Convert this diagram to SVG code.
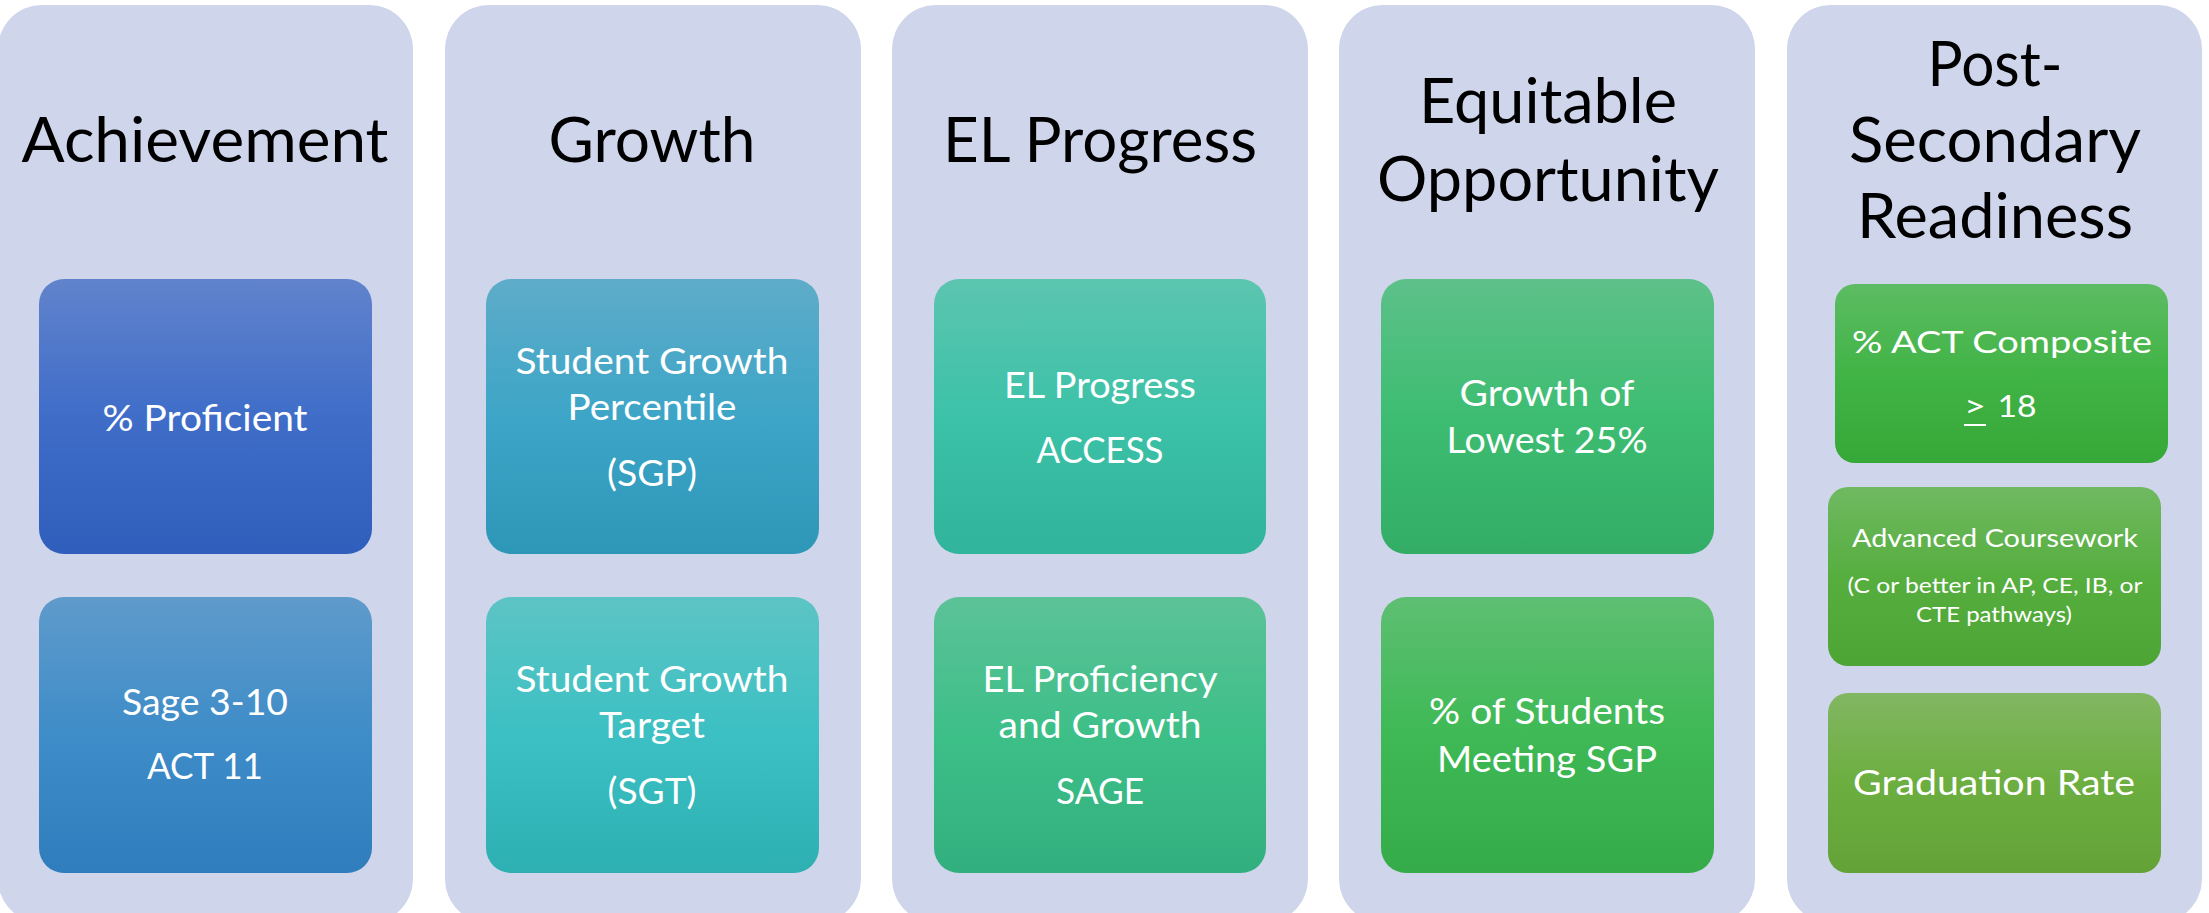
<svg xmlns="http://www.w3.org/2000/svg" width="2209" height="913" viewBox="0 0 2209 913">
<style>
.col{fill:#CFD5EA}
.title{font-family:Lato,"Open Sans","Liberation Sans",sans-serif;font-size:62px;fill:#000;text-anchor:middle}
.bt{font-family:Lato,"Open Sans","Liberation Sans",sans-serif;font-size:36px;fill:#fff;text-anchor:middle}
.st{font-family:Lato,"Open Sans","Liberation Sans",sans-serif;fill:#fff;text-anchor:middle}
</style>
<defs>
<linearGradient id="g1" x1="0" y1="0" x2="0" y2="1"><stop offset="0" stop-color="#6183CC"/><stop offset="0.5" stop-color="#3F6DC8"/><stop offset="1" stop-color="#2F5EBC"/></linearGradient>
<linearGradient id="g2" x1="0" y1="0" x2="0" y2="1"><stop offset="0" stop-color="#5F9BCB"/><stop offset="0.5" stop-color="#3E8CC8"/><stop offset="1" stop-color="#2F7DBC"/></linearGradient>
<linearGradient id="g3" x1="0" y1="0" x2="0" y2="1"><stop offset="0" stop-color="#5EACC9"/><stop offset="0.5" stop-color="#3DA5C7"/><stop offset="1" stop-color="#2E97B8"/></linearGradient>
<linearGradient id="g4" x1="0" y1="0" x2="0" y2="1"><stop offset="0" stop-color="#5DC4C5"/><stop offset="0.5" stop-color="#3CC0C3"/><stop offset="1" stop-color="#2EB0B2"/></linearGradient>
<linearGradient id="g5" x1="0" y1="0" x2="0" y2="1"><stop offset="0" stop-color="#5CC5B0"/><stop offset="0.5" stop-color="#3CC2A8"/><stop offset="1" stop-color="#30B49B"/></linearGradient>
<linearGradient id="g6" x1="0" y1="0" x2="0" y2="1"><stop offset="0" stop-color="#5CC298"/><stop offset="0.5" stop-color="#3DBF88"/><stop offset="1" stop-color="#32AF7E"/></linearGradient>
<linearGradient id="g7" x1="0" y1="0" x2="0" y2="1"><stop offset="0" stop-color="#5DC189"/><stop offset="0.5" stop-color="#3DBD72"/><stop offset="1" stop-color="#33AD66"/></linearGradient>
<linearGradient id="g8" x1="0" y1="0" x2="0" y2="1"><stop offset="0" stop-color="#5EBF72"/><stop offset="0.5" stop-color="#3EB955"/><stop offset="1" stop-color="#35AB49"/></linearGradient>
<linearGradient id="g9" x1="0" y1="0" x2="0" y2="1"><stop offset="0" stop-color="#5DBC63"/><stop offset="0.5" stop-color="#41B446"/><stop offset="1" stop-color="#36A838"/></linearGradient>
<linearGradient id="g10" x1="0" y1="0" x2="0" y2="1"><stop offset="0" stop-color="#70B961"/><stop offset="0.5" stop-color="#56AE3F"/><stop offset="1" stop-color="#4DA535"/></linearGradient>
<linearGradient id="g11" x1="0" y1="0" x2="0" y2="1"><stop offset="0" stop-color="#82B762"/><stop offset="0.5" stop-color="#6CAE40"/><stop offset="1" stop-color="#63A237"/></linearGradient>
</defs>

<g id="col-achievement">
<rect class="col" x="-2" y="5" width="415" height="918" rx="44"/>
<text class="title" x="205" y="162" textLength="367" lengthAdjust="spacingAndGlyphs">Achievement</text>
</g>
<g id="node-proficient">
<rect x="39" y="279" width="333" height="275" rx="25" fill="url(#g1)"/>
<text class="bt" x="205" y="431" textLength="205" lengthAdjust="spacingAndGlyphs">% Proficient</text>
</g>
<g id="node-sage">
<rect x="39" y="597" width="333" height="276" rx="25" fill="url(#g2)"/>
<text class="bt" x="205" y="715" textLength="166" lengthAdjust="spacingAndGlyphs">Sage 3-10</text>
<text class="bt" x="205" y="779" textLength="116" lengthAdjust="spacingAndGlyphs">ACT 11</text>
</g>

<g id="col-growth">
<rect class="col" x="445" y="5" width="416" height="918" rx="44"/>
<text class="title" x="652" y="162" textLength="207" lengthAdjust="spacingAndGlyphs">Growth</text>
</g>
<g id="node-sgp">
<rect x="486" y="279" width="333" height="275" rx="25" fill="url(#g3)"/>
<text class="bt" x="652" y="374" textLength="273" lengthAdjust="spacingAndGlyphs">Student Growth</text>
<text class="bt" x="652" y="420" textLength="169" lengthAdjust="spacingAndGlyphs">Percentile</text>
<text class="bt" x="652" y="486" textLength="90" lengthAdjust="spacingAndGlyphs">(SGP)</text>
</g>
<g id="node-sgt">
<rect x="486" y="597" width="333" height="276" rx="25" fill="url(#g4)"/>
<text class="bt" x="652" y="692" textLength="273" lengthAdjust="spacingAndGlyphs">Student Growth</text>
<text class="bt" x="652" y="738" textLength="106" lengthAdjust="spacingAndGlyphs">Target</text>
<text class="bt" x="652" y="804" textLength="89" lengthAdjust="spacingAndGlyphs">(SGT)</text>
</g>

<g id="col-el">
<rect class="col" x="892" y="5" width="416" height="918" rx="44"/>
<text class="title" x="1100" y="162" textLength="314" lengthAdjust="spacingAndGlyphs">EL Progress</text>
</g>
<g id="node-access">
<rect x="934" y="279" width="332" height="275" rx="25" fill="url(#g5)"/>
<text class="bt" x="1100" y="398" textLength="192" lengthAdjust="spacingAndGlyphs">EL Progress</text>
<text class="bt" x="1100" y="463" textLength="127" lengthAdjust="spacingAndGlyphs">ACCESS</text>
</g>
<g id="node-elprof">
<rect x="934" y="597" width="332" height="276" rx="25" fill="url(#g6)"/>
<text class="bt" x="1100" y="692" textLength="235" lengthAdjust="spacingAndGlyphs">EL Proficiency</text>
<text class="bt" x="1100" y="738" textLength="203" lengthAdjust="spacingAndGlyphs">and Growth</text>
<text class="bt" x="1100" y="804" textLength="88" lengthAdjust="spacingAndGlyphs">SAGE</text>
</g>

<g id="col-equitable">
<rect class="col" x="1339" y="5" width="416" height="918" rx="44"/>
<text class="title" x="1548" y="123" textLength="258" lengthAdjust="spacingAndGlyphs">Equitable</text>
<text class="title" x="1548" y="201" textLength="342" lengthAdjust="spacingAndGlyphs">Opportunity</text>
</g>
<g id="node-lowest">
<rect x="1381" y="279" width="333" height="275" rx="25" fill="url(#g7)"/>
<text class="bt" x="1547" y="406" textLength="175" lengthAdjust="spacingAndGlyphs">Growth of</text>
<text class="bt" x="1547" y="453" textLength="201" lengthAdjust="spacingAndGlyphs">Lowest 25%</text>
</g>
<g id="node-meeting">
<rect x="1381" y="597" width="333" height="276" rx="25" fill="url(#g8)"/>
<text class="bt" x="1547" y="724" textLength="236" lengthAdjust="spacingAndGlyphs">% of Students</text>
<text class="bt" x="1547" y="772" textLength="220" lengthAdjust="spacingAndGlyphs">Meeting SGP</text>
</g>

<g id="col-postsecondary">
<rect class="col" x="1787" y="5" width="415" height="918" rx="44"/>
<text class="title" x="1995" y="86" textLength="135" lengthAdjust="spacingAndGlyphs">Post-</text>
<text class="title" x="1995" y="162" textLength="292" lengthAdjust="spacingAndGlyphs">Secondary</text>
<text class="title" x="1995" y="238" textLength="276" lengthAdjust="spacingAndGlyphs">Readiness</text>
</g>
<g id="node-act">
<rect x="1835" y="284" width="333" height="179" rx="20" fill="url(#g9)"/>
<text class="st" x="2002" y="353" font-size="31" textLength="300" lengthAdjust="spacingAndGlyphs">% ACT Composite</text>
<text class="st" x="1975" y="417" font-size="31" textLength="22" lengthAdjust="spacingAndGlyphs">&gt;</text>
<line x1="1964" y1="425" x2="1986" y2="425" stroke="#fff" stroke-width="2"/>
<text class="st" x="2017" y="417" font-size="31" textLength="39" lengthAdjust="spacingAndGlyphs">18</text>
</g>
<g id="node-advanced">
<rect x="1828" y="487" width="333" height="179" rx="20" fill="url(#g10)"/>
<text class="st" x="1995" y="547" font-size="25" textLength="286" lengthAdjust="spacingAndGlyphs">Advanced Coursework</text>
<text class="st" x="1995" y="593" font-size="22" textLength="295" lengthAdjust="spacingAndGlyphs">(C or better in AP, CE, IB, or</text>
<text class="st" x="1994" y="622" font-size="22" textLength="156" lengthAdjust="spacingAndGlyphs">CTE pathways)</text>
</g>
<g id="node-graduation">
<rect x="1828" y="693" width="333" height="180" rx="20" fill="url(#g11)"/>
<text class="st" x="1994" y="795" font-size="35" textLength="282" lengthAdjust="spacingAndGlyphs">Graduation Rate</text>
</g>
<g id="connectors"/>
</svg>
